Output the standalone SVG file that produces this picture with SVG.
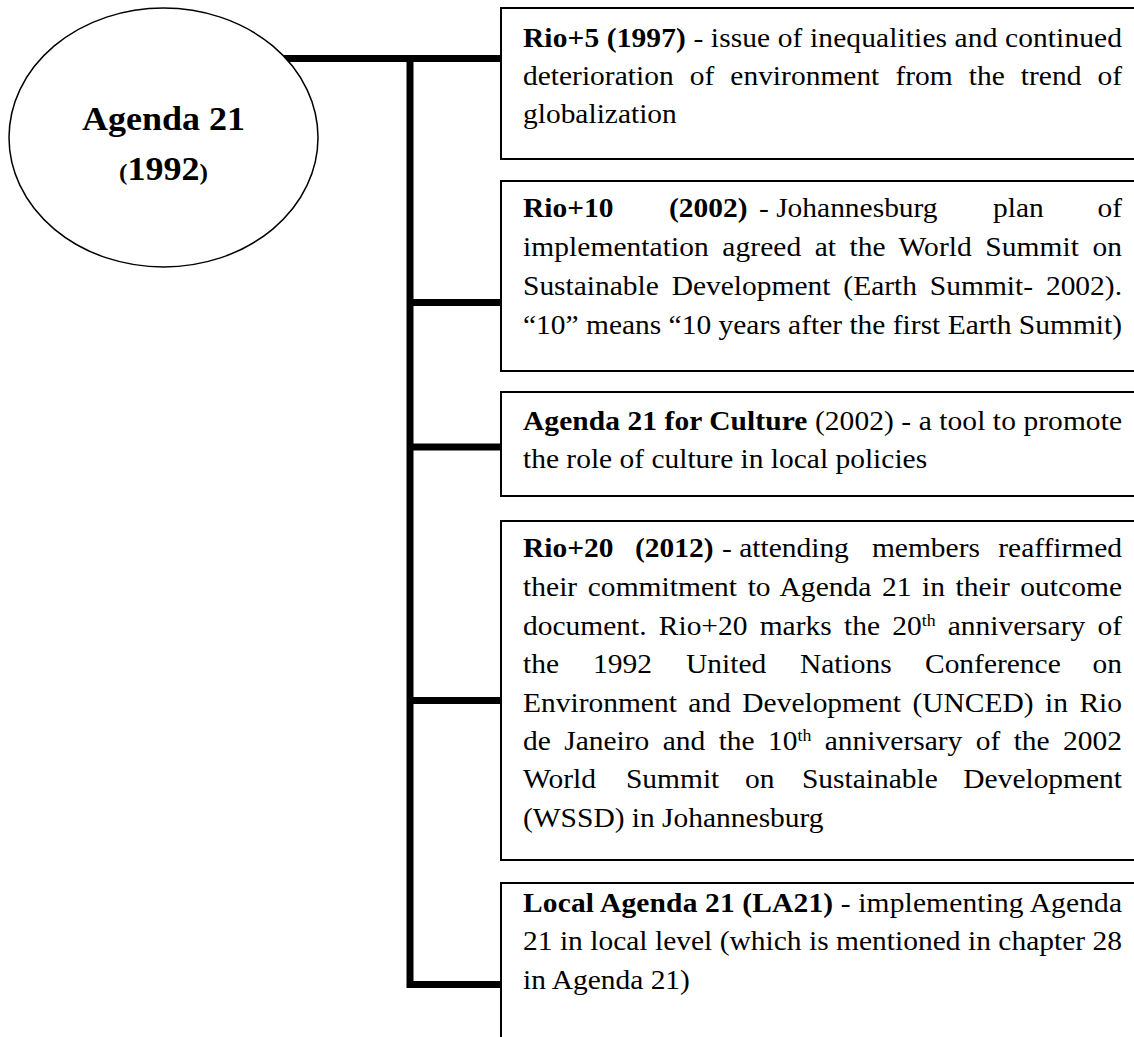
<svg xmlns="http://www.w3.org/2000/svg" width="1134" height="1037" viewBox="0 0 1134 1037">
<style>
  text { font-family: "Liberation Serif", "Times New Roman", serif; fill: #000; }
  .t { font-size: 26.5px; }
  .b { font-weight: bold; }
  .sup { font-size: 16px; }
  .box { fill: #fff; stroke: #000; stroke-width: 2; }
  .conn { fill: none; stroke: #000; stroke-width: 7; stroke-linejoin: miter; }
  .hub { fill: #fff; stroke: #000; stroke-width: 1.5; }
</style>
<rect width="1134" height="1037" fill="#fff"/>
<g id="connectors">
  <path class="conn" d="M280 58.5 H501 M410 55 V984.5 H501 M410 302.5 H501 M410 447 H501 M410 700.5 H501"/>
</g>
<g id="agenda21">
  <ellipse class="hub" cx="163.5" cy="137.5" rx="154.5" ry="129.5"/>
  <g transform="matrix(1.06 0 0 1 -9.81 0)">
    <text x="163.5" y="130" text-anchor="middle" class="b" font-size="34">Agenda 21</text>
    <text x="163.5" y="180" text-anchor="middle" class="b"><tspan font-size="24">(</tspan><tspan font-size="34">1992</tspan><tspan font-size="24">)</tspan></text>
  </g>
</g>
<g id="rio5">
  <rect class="box" x="501" y="8" width="700" height="151"/>
  <g class="t" transform="matrix(1.112 0 0 1 -58.58 0)">
    <text x="523" y="47" textLength="538.7"><tspan class="b">Rio+5 (1997)</tspan> - issue of inequalities and continued</text>
    <text x="523" y="85" textLength="538.7" word-spacing="7.8">deterioration of environment from the trend of</text>
    <text x="523" y="123">globalization</text>
  </g>
</g>
<g id="rio10">
  <rect class="box" x="501" y="181" width="700" height="190"/>
  <g class="t" transform="matrix(1.112 0 0 1 -58.58 0)">
    <text y="217"><tspan x="523" class="b">Rio+10</tspan><tspan x="654.3" class="b">(2002)</tspan><tspan x="735.2">- Johannesburg</tspan><tspan x="945.7">plan</tspan></text>
    <text x="1061.7" y="217" text-anchor="end">of</text>
    <text x="523" y="256" textLength="538.7" word-spacing="5.4">implementation agreed at the World Summit on</text>
    <text x="523" y="295" textLength="538.7" word-spacing="5">Sustainable Development (Earth Summit- 2002).</text>
    <text x="523" y="334" textLength="538.7">“10” means “10 years after the first Earth Summit)</text>
  </g>
</g>
<g id="culture">
  <rect class="box" x="501" y="392" width="700" height="104"/>
  <g class="t" transform="matrix(1.112 0 0 1 -58.58 0)">
    <text x="523" y="430" textLength="538.7"><tspan class="b">Agenda 21 for Culture</tspan> (2002) - a tool to promote</text>
    <text x="523" y="468">the role of culture in local policies</text>
  </g>
</g>
<g id="rio20">
  <rect class="box" x="501" y="521" width="700" height="339"/>
  <g class="t" transform="matrix(1.112 0 0 1 -58.58 0)">
    <text y="557"><tspan x="523" class="b">Rio+20</tspan><tspan x="623.7" class="b">(2012)</tspan><tspan x="702">- attending</tspan><tspan x="836.8">members</tspan></text>
    <text x="1061.7" y="557" text-anchor="end">reaffirmed</text>
    <text x="523" y="596" textLength="538.7" word-spacing="2.8">their commitment to Agenda 21 in their outcome</text>
    <text x="523" y="635" textLength="538.7" word-spacing="4.4">document. Rio+20 marks the 20<tspan class="sup" baseline-shift="super">th</tspan> anniversary of</text>
    <text y="673"><tspan x="523">the</tspan><tspan x="585.9">1992</tspan><tspan x="669.6">United</tspan><tspan x="772.1">Nations</tspan><tspan x="884.5">Conference</tspan></text>
    <text x="1061.7" y="673" text-anchor="end">on</text>
    <text x="523" y="712" textLength="538.7" word-spacing="3.7">Environment and Development (UNCED) in Rio</text>
    <text x="523" y="750" textLength="538.7" word-spacing="5.4">de Janeiro and the 10<tspan class="sup" baseline-shift="super">th</tspan> anniversary of the 2002</text>
    <text y="788"><tspan x="523">World</tspan><tspan x="615.6">Summit</tspan><tspan x="722.6">on</tspan><tspan x="773.9">Sustainable</tspan></text>
    <text x="1061.7" y="788" text-anchor="end">Development</text>
    <text x="523" y="827">(WSSD) in Johannesburg</text>
  </g>
</g>
<g id="la21">
  <rect class="box" x="501" y="883" width="700" height="200"/>
  <g class="t" transform="matrix(1.112 0 0 1 -58.58 0)">
    <text x="523" y="912" textLength="538.7"><tspan class="b">Local Agenda 21 (LA21)</tspan> - implementing Agenda</text>
    <text x="523" y="950" textLength="538.7">21 in local level (which is mentioned in chapter 28</text>
    <text x="523" y="989">in Agenda 21)</text>
  </g>
</g>
</svg>
